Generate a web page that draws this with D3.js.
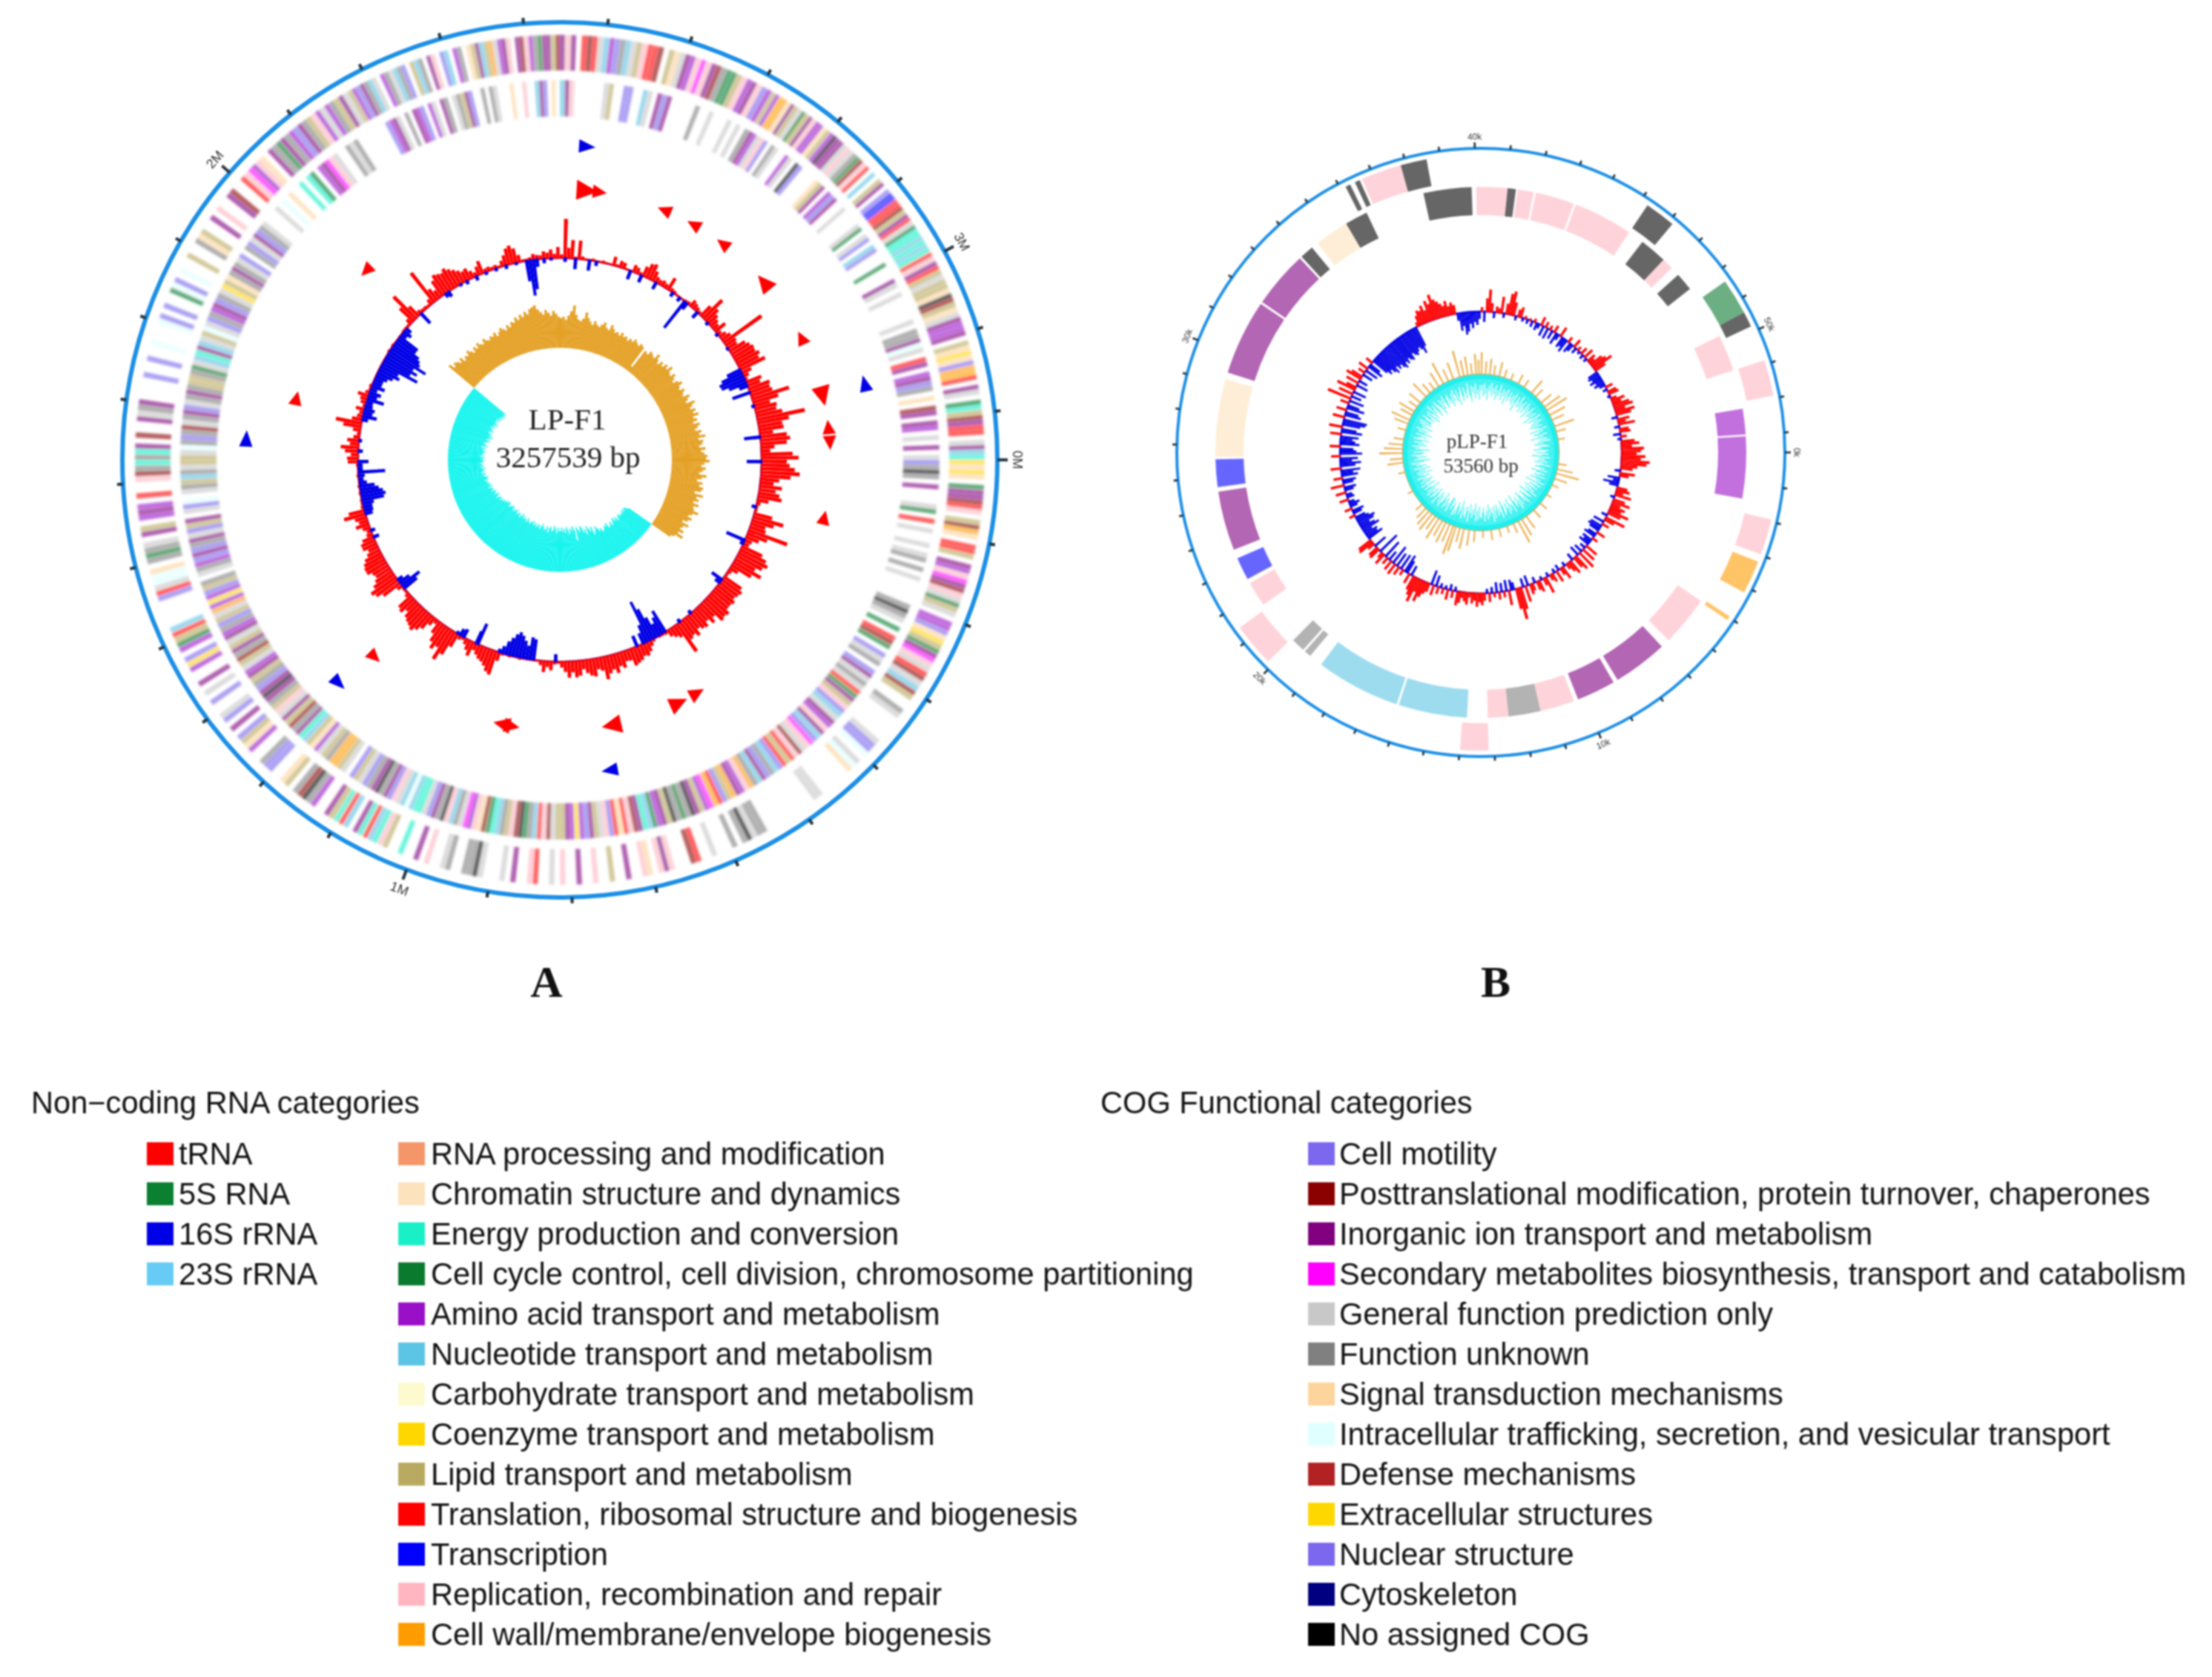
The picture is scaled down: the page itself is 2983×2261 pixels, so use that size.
<!DOCTYPE html>
<html><head><meta charset="utf-8">
<script src="https://cdn.jsdelivr.net/npm/d3@7"></script>
<style>html,body{margin:0;padding:0;background:#fff}svg{display:block;filter:blur(1px)}</style>
</head><body><svg id="c" width="2983" height="2261"></svg>
<script>
const _ = null;
const ncNames = ["tRNA","5S RNA","16S rRNA","23S rRNA"];
const ncColors = ["#ff0000","#0a8030","#0000e6","#66ccf5"];
const cogNames = ["RNA processing and modification","Chromatin structure and dynamics","Energy production and conversion","Cell cycle control, cell division, chromosome partitioning","Amino acid transport and metabolism","Nucleotide transport and metabolism","Carbohydrate transport and metabolism","Coenzyme transport and metabolism","Lipid transport and metabolism","Translation, ribosomal structure and biogenesis","Transcription","Replication, recombination and repair","Cell wall/membrane/envelope biogenesis","Cell motility","Posttranslational modification, protein turnover, chaperones","Inorganic ion transport and metabolism","Secondary metabolites biosynthesis, transport and catabolism","General function prediction only","Function unknown","Signal transduction mechanisms","Intracellular trafficking, secretion, and vesicular transport","Defense mechanisms","Extracellular structures","Nuclear structure","Cytoskeleton","No assigned COG"];
const cogColors = ["#f4966a","#fde3bd","#19f0c8","#0a7a2f","#9a10c8","#5cc4e4","#fdfad0","#ffd700","#b8aa60","#ff0000","#0000ff","#ffb6c1","#ff9d00","#7b68ee","#8b0000","#800080","#ff00ff","#c8c8c8","#808080","#fdd59c","#e0ffff","#b22222","#ffd700","#7b68ee","#000080","#000000"];

// Chromosome LP-F1: COG category per stripe, one row per 30 degrees clockwise from 12 o'clock
const cogOuterA = [
[15,11,15,_,9,14,9,17,5,4,13,18,5,17,8,11,9,9,14,_,8,19,17,15,4,11,16,11,15,14,18,3,3,8,11,4,15,11,13,4],
[8,4,12,12,19,15,8,17,3,8,15,11,4,4,19,8,4,25,15,15,17,11,17,18,3,14,11,9,_,5,_,8,15,_,13,10,10,9,9,14,8,15,9,17,3,2,2,5,2,5],
[2,9,11,15,9,8,17,8,8,19,25,14,8,19,17,15,4,4,15,_,8,19,7,19,13,12,12,9,_,15,17,_,3,2,8,14,15,9,9,_,17,15,5,2],
[7,19,7,19,_,3,15,15,14,9,11,_,8,14,12,19,_,9,9,8,_,15,4,11,16,15,14,11,17,3,8,17,_,4,4,13,19,7,8,3,15,16,11,17],
[9,14,17,5,14,8,_,_,18,17,_,_,_,_,_,17,13,13,20,_,17,20,19,_,_,_,_,_,_,17,17,_,_,_,_,_,_,_,_,_],
[_,18,18,17,25,18,_,18,_,_,_,17,_,_,9,14,_,_,_,11,15,11,_,19,11,_,_,15,_,_,8,_,_,11,_,_,15,_,_,11],
[_,17,_,_,9,11,_,_,15,_,17,_,_,_,17,25,18,18,_,_,18,17,_,_,11,_,15,_,_,2,_,_,8,11,2,5,9,2,15,_],
[5,9,2,8,15,_,_,4,18,25,14,18,_,8,19,_,_,13,13,18,_,_,4,19,8,13,_,15,_,13,17,_,_,13,_,17,_,15,_,_],
[4,7,13,_,4,3,8,9,5,_,_,_,_,_,13,9,17,20,20,19,_,18,3,18,17,_,15,8,_,4,15,4,_,9,_,_,11,14,18,2],
[18,2,15,_,14,_,_,15,17,18,15,_,_,_,_,13,_,_,13,_,_,20,_,_,_,20,13,_,13,_,_,3,20,13,_,20,_,_,8,_],
[_,18,19,8,_,_,15,_,11,_,_,15,14,_,_,9,11,16,4,11,19,_,15,18,3,15,18,4,13,15,18,8,11,4,17,4,18,8,15,17],
[8,4,13,15,18,5,17,_,4,18,17,5,18,13,_,8,5,18,_,15,11,_,13,5,_,4,18,_,19,8,15,5,8,12,17,4,15,11,_,15,14,11,4,18,3,15,15,8,14]
];
const cogInnerA = [
[5,15,11,_,_,_,_,_,_,17,8,_,_,13,13,_,_,5,17,_,15,13,15,_,_,_,_,_,18,_,_,17,_,_,_,17,_,17,_,18],
[15,4,17,11,13,_,18,17,_,_,4,17,_,25,13,_,_,_,_,19,8,15,_,4,13,15,_,_,17,_,_,_,_,17,3,_,17,13,_,5,13,_,_,_,3,_],
[_,_,15,17,_,17,_,_,_,_,_,17,_,18,18,15,20,17,_,9,15,_,4,15,13,18,_,19,_,14,15,_,15,4,_,17,_,15,_,17],
[13,18,25,18,_,15,_,_,_,17,3,_,9,_,17,_,_,17,_,17,18,_,18,_,17,_,_,_,_,_,18,25,18,17,_,3,_,9,14,3],
[_,13,17,18,_,13,15,17,18,17,9,3,15,8,11,13,5,17,15,4,11,15,5,13,16,11,17,14,11,9,8,9,13,5,18,13,15,5,18,12],
[11,4,15,12,8,13,9,12,16,4,8,15,25,18,3,18,25,8,15,4,3,5,2,15,14,11,9,19,9,13,11,17,8,15,13,4,7,4,15,8],
[8,17,14,11,9,5,18,3,25,14,11,8,18,5,2,3,14,19,11,4,16,17,18,5,11,25,18,15,13,17,2,2,5,20,5,17,11,13,15,18,25,15],
[18,13,17,8,13,_,17,8,12,12,18,8,17,4,19,8,5,2,15,18,14,8,15,17,11,8,18,15,25,15,13,18,8,15,4,17,8,14,18,15],
[8,17,15,4,18,13,8,17,12,4,7,4,13,8,18,_,17,18,4,13,15,13,18,15,17,13,8,15,_,17,13,20,_,17,18,8,5,18,17,8],
[8,17,20,18,13,18,14,17,18,15,13,17,18,15,18,8,8,18,3,17,5,2,15,5,17,8,20,17,13,18,4,15,13,18,17,7,8,19,18],
[15,18,17,13,_,18,13,17,15,13,18,17,_,_,_,17,_,20,_,19,_,_,2,_,2,3,_,4,15,16,11,17,_,_,18,17,18,_,_,_],
[_,_,_,_,13,4,15,17,_,18,_,15,4,13,_,4,17,_,15,18,_,17,18,8,15,13,_,_,18,_,18,17,_,_,_,19,_,_,11,_,_,5,15,13,_,19,_]
];
// [angle, radius band (0 red inner, 1 blue outer), type index, direction, size]
const rnaA = [[5,1,2,1,1],[5.8,0,0,1,1.5],[8.5,0,0,1,1],[22.7,0,0,-1,1],[29.6,0,0,-1,1],[37,0,0,-1,1],[49,0,0,-1,1.3],[63.2,0,0,-1,1],[75.9,1,2,-1,1],[76.4,0,0,1,1.4],[83,0,0,-1,1],[86.4,0,0,1,1],[102.3,0,0,-1,1],[149.5,0,0,-1,1.1],[153.9,0,0,-1,1.3],[169,0,0,1,1.4],[170.9,1,2,1,1],[190.2,0,0,-1,1.1],[192.4,0,0,1,1.2],[223.2,0,0,-1,1],[224.7,1,2,-1,1],[273.9,1,2,1,1],[283.2,0,0,1,1],[314.3,0,0,-1,1]];
// GC content: red outward bars, one row per 30 degrees
const gcRedA = [
[5,53,14,25,3,25,4,2,2,3,2,2,3,2,2,12,3,9,8,2,2,10,8,4,14,20,22,14,8,6],
[8,6,18,5,4,2,2,2,3,4,10,8,6,4,18,35,22,16,12,9,17,6,10,14,62,16,14,24,28,31],
[30,34,30,37,14,8,4,22,18,30,28,30,52,35,22,30,28,35,65,42,32,33,18,36,40,35,18,12,42,50],
[34,38,45,52,40,25,18,30,22,28,32,15,5,3,3,25,42,30,20,22,55,28,18,10,8,30,38,43,38,30],
[42,30,12,5,3,28,32,30,28,32,30,30,36,34,36,24,30,22,28,26,22,30,25,28,45,18,14,10,4,3],
[3,2,4,8,14,18,16,20,22,24,15,14,22,18,26,20,24,31,18,15,24,22,18,12,20,22,15,22,14,8],
[3,4,12,8,15,6,2,2,2,2,2,3,2,2,3,2,3,12,33,30,24,20,18,14,10,20,14,8,4,6],
[20,35,46,30,36,28,18,6,12,22,28,33,30,28,25,18,25,22,6,3,3,8,28,36,40,32,26,22,24,30],
[30,28,24,18,14,20,20,16,8,6,10,18,12,16,30,22,4,3,3,2,3,2,3,2,2,3,2,2,3,14],
[15,10,18,24,12,16,8,4,10,24,35,14,8,6,12,4,8,10,15,6,3,4,2,2,2,2,2,2,2,2],
[2,2,3,2,3,2,2,2,2,3,3,3,8,25,42,18,6,4,4,3,8,50,18,12,24,30,28,26,30,26],
[22,18,14,16,10,6,12,18,5,6,4,5,3,8,14,22,25,20,10,3,3,4,8,6,5,10,8,12,6,15]
];
// GC content: blue inward bars as [degree, depth]
const gcBlueA = [[1,5],[4,14],[8,14],[10,6],[20,12],[23.4,10],[28,10],[33.6,6],[36,6],[37.8,45],[38.6,10],[42.5,10],[46.7,4],[51,4],[56,3],[63,20],[64,30],[65,35],[66,34],[67,25],[68,12],[70,25],[74,4],[83,22],[90,20],[103,6],[113,27],[114,5],[126,17],[127,8],[139,5],[143,5],[148,33],[149,25],[150,18],[151,30],[152,45],[153,58],[154,25],[155,15],[157,15],[180.7,10],[187,28],[188,30],[189,18],[190,24],[191,30],[192,34],[193,30],[194,24],[195,18],[196,10],[197,5],[203.5,30],[204,18],[208,12],[209,10],[210,4],[230,22],[231,30],[232,16],[233,8],[247,8],[249,6],[254,10],[255,12],[256,12],[257,15],[258,30],[259,33],[260,30],[261,25],[262,20],[263,10],[264,6],[265,8],[266,36],[267,6],[268,6],[269,14],[272,6],[275,4],[281,8],[282,19],[283,12],[284,14],[285,10],[286,9],[287,23],[288,12],[289,16],[290,9],[291,18],[292,12],[293,12],[294,16],[295,22],[296,30],[297,26],[298,53],[299,40],[300,48],[301,40],[302,57],[303,45],[304,42],[305,38],[306,30],[307,30],[308,8],[309,12],[310,8],[316,18],[325,6],[326,8],[330,3],[332,5],[335,6],[338,4],[341,4],[344,5],[347,3],[350,28],[351,48],[352,40],[353,10],[355,6],[357,3]];
// GC skew: positive outward (orange), negative inward (cyan)
const skewA = [
[40,42,38,44,50,58,46,40,38,42,51,44,40,36,42,38,36,40,44,38,36,44,40,36,38,35,40,36,38,34],
[38,36,41,38,36,40,38,8,36,34,40,38,36,44,38,34,40,36,42,38,45,38,36,42,38,34,40,44,38,36],
[42,38,36,44,40,36,47,42,38,44,40,46,38,42,36,44,40,36,44,40,48,38,44,42,38,46,40,44,48,46],
[51,44,40,46,42,38,48,42,36,44,40,46,44,36,48,40,44,38,46,40,42,49,42,38,44,40,34,44,38,36],
[42,36,45,34,30,-38,-42,-44,-40,-44,-40,-42,-40,-44,-42,-38,-44,-40,-46,-42,-38,-44,-40,-38,-46,-42,-44,-40,-38,-44],
[-41,-46,-50,-44,-40,-52,-46,-50,-55,-44,-52,-48,-55,-58,-50,-54,-58,-40,-55,-60,-54,-58,-50,-56,-60,-52,-58,-54,-60,-55],
[-55,-60,-52,-58,-62,-56,-54,-60,-58,-52,-60,-56,-54,-58,-62,-58,-54,-60,-58,-55,-60,-56,-62,-58,-60,-56,-58,-62,-56,-60],
[-58,-62,-58,-64,-60,-56,-62,-60,-58,-64,-60,-62,-58,-60,-64,-62,-60,-58,-62,-64,-60,-62,-58,-60,-56,-58,-54,-58,-56,-52],
[-56,-58,-52,-54,-56,-50,-54,-52,-48,-54,-50,-52,-48,-50,-46,-50,-52,-48,-46,-50,-44,-48,-46,-50,-44,-48,-46,-44,-48,-48],
[-46,-50,-44,-48,-46,-50,-48,-46,-50,-44,-52,-48,-46,-50,-54,-48,-52,-56,-50,-54,-50,-48,-54,-50,-52,-48,-54,-50,-56,-52],
[-50,-54,-50,-56,-52,-56,-54,-58,-54,-56,45,38,42,40,36,41,34,38,36,42,38,34,40,36,42,38,36,42,38,36],
[40,38,42,36,40,44,41,38,44,40,46,44,50,46,52,48,54,50,56,58,60,54,50,46,52,48,44,50,46,42]
];

// Plasmid pLP-F1: COG arcs as [start deg, end deg, category]
const arcsOuterB = [[333,334,25],[335,336,25],[336.5,344.4,11],[344.4,349.5,25],[34,40,25],[55,62,3],[62,65,25],[72,79,11],[103,110,11],[111.5,118,12],[123.4,124.2,12],[178.5,184,11],[225.5,234,11]];
const arcsInnerB = [[-1,5.8,11],[5.8,7.6,25],[8,11.5,11],[12,20.5,11],[21,34,11],[37.5,43.5,25],[43.5,46,11],[48,52,25],[64,72,11],[80.5,86.1,4],[86.5,100,4],[124,135,11],[137,149,15],[150,158.5,15],[159.5,167,11],[167,174,18],[174,178.5,11],[183,198,5],[198.5,217,5],[220,221.5,18],[222,225,18],[235,240.5,11],[241.5,246.5,10],[248.5,261.5,15],[262.5,268.5,10],[269,286,1],[287.5,304,15],[304.5,317,15],[317.5,320.5,25],[322,329.5,1],[329.5,334.5,25],[347.5,358,25]];
const gcB = [
[6,-14,18,30,12,-8,8,6,22,-6,14,28,32,18,-6,10,14,-5,4,-6,3,-8,5,-10,-6,12,-14,8,-15,6],
[-12,10,-16,-8,14,-15,-12,-18,8,-14,-10,12,-8,6,-4,10,-6,14,-5,12,8,18,22,29,16,-14,-16,-12,-17,-10],
[-14,-8,10,-6,12,14,-4,8,18,12,22,26,14,26,20,-8,16,10,22,-7,12,14,-10,8,-5,18,24,14,30,26],
[20,32,26,38,34,22,16,-8,20,12,-16,-8,-21,-12,14,18,10,22,-6,16,24,12,20,16,28,18,-8,28,14,-15],
[10,-16,-18,-14,12,-12,-16,8,-14,-10,-15,18,-8,20,-12,26,-14,22,16,-10,20,14,8,-6,18,10,-8,16,-6,12],
[8,-6,23,10,-5,16,12,-8,10,14,-14,22,-12,30,43,28,-10,-14,20,-15,8,-12,10,-14,6,-8,12,-6,10,16],
[12,18,10,14,6,16,12,8,15,19,-6,10,-8,14,-5,8,-6,10,-15,14,-20,12,16,22,30,18,34,26,20,-14],
[14,-18,-25,8,-22,12,-20,16,-27,14,-14,10,-26,16,8,-31,16,14,-18,10,22,20,-22,-16,-18,-12,-25,-20,-14,-22],
[-25,-18,-14,8,-12,-16,10,-10,-14,-8,12,-10,-8,14,-12,-16,18,-14,-18,12,-22,-16,-26,14,-20,-28,-16,-24,12,-30],
[-22,-18,14,-26,-20,-16,-24,15,-28,-20,18,-24,-30,-32,16,-22,-18,14,-24,-16,12,-20,33,-14,20,-18,26,14,-16,18],
[-12,22,16,-14,10,-18,14,-22,-16,10,-24,-30,-26,-32,-36,-28,-34,-30,-36,-39,-32,-36,-30,-34,-36,-28,-32,-34,-30,-26],
[-30,-37,-28,6,14,20,18,24,16,28,22,34,26,22,18,14,20,12,16,12,-10,-24,-18,-30,-26,-16,-22,-14,-18,-10]
];
const skewCyanB = [
[22,14,30,12,26,18,34,14,22,10,28,16,24,12,32,18,26,10,20,30,14,24,16,34,12,22,28,14,20,26],
[16,30,12,24,36,14,20,28,10,26,18,32,14,22,30,12,24,16,34,20,12,28,18,26,14,36,22,10,30,16],
[24,12,28,18,32,14,26,20,10,34,16,22,30,12,26,18,36,14,24,10,28,20,32,16,12,26,22,34,14,18],
[30,14,22,36,12,26,18,28,14,32,20,10,24,30,16,22,12,34,26,14,20,28,12,24,32,16,22,10,36,18],
[12,28,20,14,34,22,16,30,10,24,36,14,18,26,32,12,22,16,28,34,14,24,10,30,20,16,26,36,12,22],
[26,16,34,12,22,30,18,14,28,36,12,20,26,16,32,24,14,30,10,22,28,18,34,14,26,20,12,30,24,16],
[18,32,14,26,12,36,20,28,16,22,34,10,24,30,14,18,28,12,36,22,16,26,32,14,20,12,30,24,18,34],
[34,12,24,18,30,14,26,36,20,12,28,16,32,22,10,26,34,18,14,30,22,12,28,16,36,24,14,20,32,12],
[20,28,14,32,18,24,12,30,22,16,36,14,26,18,34,12,24,30,16,22,10,28,36,14,20,32,18,12,26,30],
[14,26,36,16,22,12,32,20,28,14,24,34,12,18,30,22,14,36,26,16,28,12,20,34,18,24,14,30,12,28],
[28,18,12,30,24,16,36,14,22,32,10,26,20,14,34,28,12,18,24,36,14,30,16,22,12,32,26,18,14,28],
[22,34,16,28,12,20,30,14,36,24,18,12,32,26,14,22,30,18,10,28,36,14,24,16,32,12,26,20,34,14]
];
const skewOrangeB = [[0,30],[3,18],[6,22],[9,14],[13,20],[17,12],[22,10],[28,14],[33,12],[40,22],[44,14],[50,18],[54,26],[57,32],[61,24],[65,18],[70,28],[74,14],[80,10],[98,12],[102,22],[105,32],[109,18],[114,10],[122,8],[130,12],[137,14],[144,20],[148,26],[151,33],[155,14],[160,10],[166,12],[172,14],[178,10],[184,16],[188,22],[192,28],[195,20],[198,35],[200,41],[203,26],[206,30],[209,24],[212,32],[215,22],[218,28],[221,24],[224,18],[228,12],[240,8],[255,10],[262,22],[265,18],[269,32],[272,26],[275,20],[279,14],[286,12],[291,20],[294,27],[298,18],[301,24],[305,14],[309,20],[315,25],[319,16],[323,12],[327,22],[331,32],[335,18],[339,24],[344,37],[347,22],[350,26],[353,16],[356,28],[358,20]];

const genomeA = 3257539, genomeB = 53560;
const tickLabelsA = ["0M","1M","2M","3M"];
const tickLabelsB = ["0k","10k","20k","30k","40k","50k"];

const svg = d3.select("#c");
svg.append("defs").append("filter").attr("id","soft").attr("x","-5%").attr("y","-5%").attr("width","110%").attr("height","110%")
   .append("feGaussianBlur").attr("stdDeviation",1.5);
svg.append("rect").attr("width",2983).attr("height",2261).attr("fill","#fff");
const rad = d3.scaleLinear().domain([0,360]).range([0,2*Math.PI]);
const arcGen = d3.arc();
const sector = (a0,a1,r0,r1) => arcGen({startAngle:rad(a0),endAngle:rad(a1),innerRadius:r0,outerRadius:r1});
const flatRows = rows => rows.flatMap((row,i)=>{const w=30/row.length;return row.map((v,j)=>({a:i*30+j*w,w,v}));});

function stripes(g, rows, r0, r1){
  g.append("g").attr("filter","url(#soft)").selectAll("path").data(flatRows(rows).filter(d=>d.v!==null)).join("path")
   .attr("d",d=>sector(d.a,d.a+d.w*0.96,r0,r1))
   .attr("fill",d=>cogColors[d.v]).attr("fill-opacity",0.62);
}
function axisRing(g, R, sw, genome, step, majorStep, labels, lenMajor, lenMinor, labR, fs){
  const ang = d3.scaleLinear().domain([0,genome]).range([90,450]);
  g.append("circle").attr("r",R).attr("fill","none").attr("stroke","#1c8fe6").attr("stroke-width",sw);
  const ticks = d3.range(0,genome,step);
  g.selectAll(null).data(ticks).join("line").each(function(t){
    const a=rad(ang(t)), maj=t%majorStep===0, r2=R+(maj?lenMajor:lenMinor);
    d3.select(this).attr("x1",R*Math.sin(a)).attr("y1",-R*Math.cos(a)).attr("x2",r2*Math.sin(a)).attr("y2",-r2*Math.cos(a));
  }).attr("stroke","#2a3a44").attr("stroke-width",sw*0.7);
  labels.forEach((l,i)=>{
    const deg=ang(i*majorStep)%360, a=rad(deg), x=labR*Math.sin(a), y=-labR*Math.cos(a);
    const rot=(deg>90.01&&deg<270)?deg-180:deg;
    g.append("text").attr("transform",`translate(${x},${y}) rotate(${rot})`).attr("text-anchor","middle").attr("dy","0.35em")
     .attr("font-family","Liberation Sans").attr("font-size",fs).attr("fill","#333").text(l);
  });
}
function triangles(g, list, rBands){
  const line = d3.lineRadial().angle(d=>rad(d[0])).radius(d=>d[1]).curve(d3.curveLinearClosed);
  g.selectAll(null).data(list).join("path").attr("d",d=>{
    const r=rBands[d[1]], s=d[4], da=(d[3]*1.5*s), h=9*s;
    return line([[d[0]-da,r-h],[d[0]-da,r+h],[d[0]+da,r]]);
  }).attr("fill",d=>ncColors[d[2]]);
}

// ---------- Panel A ----------
const A = svg.append("g").attr("transform","translate(755,620)");
axisRing(A,590,6,genomeA,100000,1000000,tickLabelsA,14,8,617,18);
stripes(A,cogOuterA,525,573);
stripes(A,cogInnerA,463,512);
triangles(A,rnaA,[365,424]);
A.append("circle").attr("r",272).attr("fill","none").attr("stroke","#2222cc").attr("stroke-width",2.5);
A.selectAll(null).data(flatRows(gcRedA)).join("path").attr("d",d=>sector(d.a,d.a+0.92,271,272+d.v)).attr("fill","#ff0000");
A.selectAll(null).data(gcBlueA).join("path").attr("d",d=>sector(d[0],d[0]+1,272-d[1],273)).attr("fill","#0000e6");
A.selectAll(null).data(flatRows(skewA)).join("path").attr("d",d=>d.v>0?sector(d.a,d.a+1,151,151+d.v):sector(d.a,d.a+1,151+d.v,151))
 .attr("fill",d=>d.v>0?"#e4a024":"#14f4ee");
const serif="Liberation Serif";
A.append("text").attr("x",10).attr("y",-41).attr("text-anchor","middle").attr("font-family",serif).attr("font-size",41).attr("fill","#222").text("LP-F1");
A.append("text").attr("x",11).attr("y",10).attr("text-anchor","middle").attr("font-family",serif).attr("font-size",41).attr("fill","#222").text("3257539 bp");

// ---------- Panel B ----------
const B = svg.append("g").attr("transform","translate(1997,610)");
axisRing(B,410,4,genomeB,1000,10000,tickLabelsB,8,6,426,12);
const arcB=(list,r0,r1)=>B.selectAll(null).data(list).join("path").attr("d",d=>sector(d[0],d[1],r0,r1)).attr("fill",d=>cogColors[d[2]]).attr("fill-opacity",0.6);
arcB(arcsOuterB,365,402);
arcB(arcsInnerB,320,358);
B.append("circle").attr("r",190).attr("fill","none").attr("stroke","#2222cc").attr("stroke-width",2.5);
B.selectAll(null).data(flatRows(gcB)).join("path").attr("d",d=>d.v>0?sector(d.a,d.a+0.95,189,190+d.v):sector(d.a,d.a+0.95,190+d.v,191))
 .attr("fill",d=>d.v>0?"#ff0000":"#0000e6");
B.selectAll(null).data(skewOrangeB).join("path").attr("d",d=>sector(d[0],d[0]+1,105,105+d[1])).attr("fill","#e8a030").attr("fill-opacity",0.9);
B.append("circle").attr("r",105.5).attr("fill","none").attr("stroke","#d9a050").attr("stroke-width",1.5);
B.append("circle").attr("r",102).attr("fill","none").attr("stroke","#1ff0ee").attr("stroke-width",6);
B.selectAll(null).data(flatRows(skewCyanB)).join("path").attr("d",d=>sector(d.a,d.a+0.85,105-d.v,105)).attr("fill","#1ff0ee");
B.append("text").attr("x",-5).attr("y",-6).attr("text-anchor","middle").attr("font-family",serif).attr("font-size",27).attr("fill","#333").text("pLP-F1");
B.append("text").attr("x",0).attr("y",27).attr("text-anchor","middle").attr("font-family",serif).attr("font-size",27).attr("fill","#333").text("53560 bp");

// ---------- Panel letters ----------
[["A",737],["B",2017]].forEach(([t,x])=>svg.append("text").attr("x",x).attr("y",1344).attr("text-anchor","middle").attr("font-family",serif).attr("font-weight","bold").attr("font-size",60).attr("fill","#111").text(t));

// ---------- Legends ----------
const row = d3.scaleLinear().domain([0,1]).range([1540,1594]);
const sans="Liberation Sans", fs=41.6;
const title=(t,x)=>svg.append("text").attr("x",x).attr("y",1510-9).attr("font-family",sans).attr("font-size",fs).attr("fill","#111").text(t);
title("Non\u2212coding RNA categories",42);
title("COG Functional categories",1491-7);
function legend(names,colors,xs,xt){
  const g=svg.append("g");
  g.selectAll("rect").data(names).join("rect").attr("x",xs).attr("y",(d,i)=>row(i)).attr("width",36).attr("height",31).attr("fill",(d,i)=>colors[i]);
  g.selectAll("text").data(names).join("text").attr("x",xt).attr("y",(d,i)=>row(i)+30).attr("font-family",sans).attr("font-size",fs).attr("fill","#111").text(d=>d);
}
legend(ncNames,ncColors,198,241);
legend(cogNames.slice(0,13),cogColors.slice(0,13),537,581);
legend(cogNames.slice(13),cogColors.slice(13),1764,1806);
</script></body></html>
